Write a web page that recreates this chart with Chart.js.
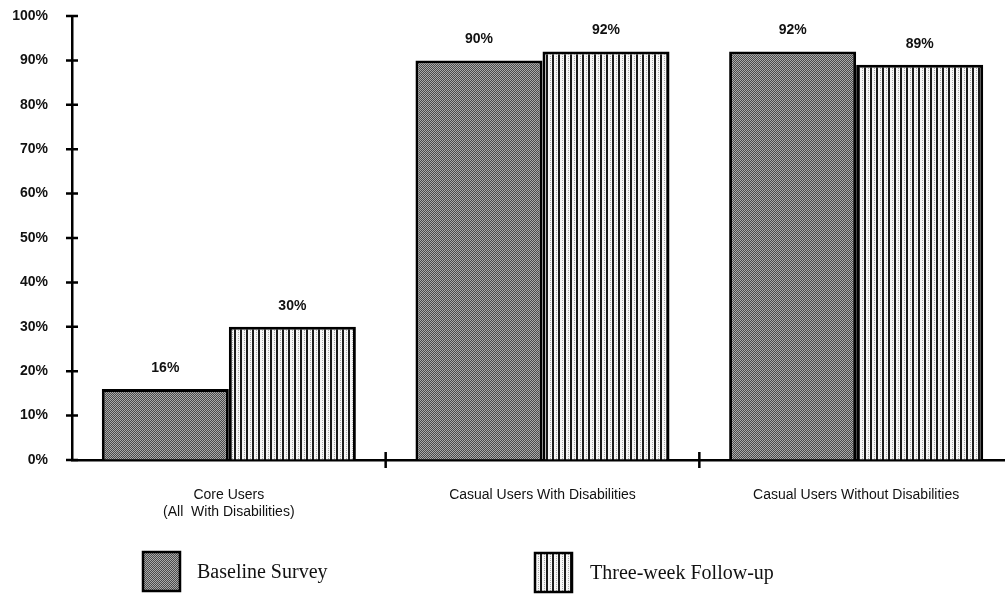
<!DOCTYPE html>
<html>
<head>
<meta charset="utf-8">
<script src="https://cdn.jsdelivr.net/npm/chart.js@4"></script>
<style>
  html, body { margin: 0; padding: 0; background: #fff; overflow: hidden; }
  #wrap { position: relative; width: 1013px; height: 595px; }
</style>
</head>
<body>
<div id="wrap"><canvas id="chart" width="1013" height="595"></canvas></div>
<script>
// data
const categories = [
  ['Core Users', '(All  With Disabilities)'],
  'Casual Users With Disabilities',
  'Casual Users Without Disabilities'
];
const seriesNames = ['Baseline Survey', 'Three-week Follow-up'];
const baseline = [16, 90, 92];
const followUp = [30, 92, 89];
const yTicks = [0, 10, 20, 30, 40, 50, 60, 70, 80, 90, 100];

// fills: dark stipple and vertical stripes
function stipple() {
  const c = document.createElement('canvas');
  c.width = 4; c.height = 4;
  const g = c.getContext('2d');
  for (let y = 0; y < 4; y++) {
    for (let x = 0; x < 4; x++) {
      g.fillStyle = (x + y) % 2 ? '#4a4a4a' : '#aaa';
      g.fillRect(x, y, 1, 1);
    }
  }
  return g.createPattern(c, 'repeat');
}
function stripes() {
  const c = document.createElement('canvas');
  c.width = 6; c.height = 2;
  const g = c.getContext('2d');
  g.fillStyle = '#f6f6f6';
  g.fillRect(0, 0, 6, 2);
  g.fillStyle = '#1a1a1a';
  g.fillRect(0, 0, 2, 2);
  g.fillStyle = '#aaa';
  g.fillRect(4, 0, 1, 1);
  return g.createPattern(c, 'repeat');
}
const fills = [stipple(), stripes()];

const barLabels = {
  id: 'barLabels',
  afterDatasetsDraw(chart) {
    const ctx = chart.ctx;
    ctx.save();
    ctx.fillStyle = '#111';
    ctx.font = 'bold 14px "Liberation Sans", Arial, sans-serif';
    ctx.textAlign = 'center';
    ctx.textBaseline = 'middle';
    chart.data.datasets.forEach((ds, i) => {
      chart.getDatasetMeta(i).data.forEach((bar, j) => {
        ctx.fillText(ds.data[j] + '%', bar.x, bar.y - 21);
      });
    });
    ctx.restore();
  }
};

// tick marks crossing the axes
const crossTicks = {
  id: 'crossTicks',
  afterDraw(chart) {
    const ctx = chart.ctx;
    const x = chart.scales.x, y = chart.scales.y;
    const area = chart.chartArea;
    ctx.save();
    ctx.strokeStyle = '#000';
    ctx.lineWidth = 2.5;
    ctx.beginPath();
    yTicks.forEach(v => {
      const py = y.getPixelForValue(v);
      ctx.moveTo(area.left - 6, py);
      ctx.lineTo(area.left + 6, py);
    });
    for (let i = 0; i < categories.length - 1; i++) {
      const px = (x.getPixelForValue(i) + x.getPixelForValue(i + 1)) / 2;
      ctx.moveTo(px, area.bottom - 8);
      ctx.lineTo(px, area.bottom + 8);
    }
    ctx.stroke();
    ctx.restore();
  }
};

// legend below the axis labels
const bottomLegend = {
  id: 'bottomLegend',
  afterDraw(chart) {
    const ctx = chart.ctx;
    const items = [
      { box: [143, 552], text: [197, 573] },
      { box: [535, 553], text: [590, 574] }
    ];
    ctx.save();
    ctx.font = '20px "Liberation Serif", "Times New Roman", serif';
    ctx.textBaseline = 'middle';
    items.forEach((it, i) => {
      ctx.fillStyle = fills[i];
      ctx.fillRect(it.box[0], it.box[1], 37, 39);
      ctx.strokeStyle = '#000';
      ctx.lineWidth = 2.5;
      ctx.strokeRect(it.box[0], it.box[1], 37, 39);
      ctx.fillStyle = '#111';
      ctx.fillText(seriesNames[i], it.text[0], it.text[1]);
    });
    ctx.restore();
  }
};

new Chart(document.getElementById('chart'), {
  type: 'bar',
  data: {
    labels: categories,
    datasets: [
      { label: seriesNames[0], data: baseline, backgroundColor: fills[0] },
      { label: seriesNames[1], data: followUp, backgroundColor: fills[1] }
    ].map(d => Object.assign(d, {
      borderColor: '#000',
      borderWidth: 3,
      borderSkipped: 'bottom',
      categoryPercentage: 0.81,
      barPercentage: 1
    }))
  },
  options: {
    responsive: false,
    animation: false,
    layout: { padding: { top: 16, left: 0, right: 0, bottom: 0 } },
    plugins: { legend: { display: false }, tooltip: { enabled: false } },
    scales: {
      x: {
        grid: { display: false, drawTicks: false },
        border: { color: '#000', width: 2.5 },
        ticks: {
          color: '#111',
          padding: 27,
          maxRotation: 0,
          autoSkip: false,
          font: { family: '"Liberation Sans", Arial, sans-serif', size: 14 }
        },
        afterFit(scale) { scale.height = 135; }
      },
      y: {
        min: 0,
        max: 100,
        grid: {
          display: true,
          drawOnChartArea: false,
          drawTicks: true,
          tickLength: 24,
          color: 'rgba(0,0,0,0)'
        },
        border: { color: '#000', width: 2.5 },
        ticks: {
          stepSize: 10,
          color: '#111',
          padding: 0,
          callback: v => v + '%',
          font: { family: '"Liberation Sans", Arial, sans-serif', size: 14, weight: 'bold' }
        },
        afterFit(scale) { scale.width = 72; }
      }
    }
  },
  plugins: [barLabels, crossTicks, bottomLegend]
});
</script>
</body>
</html>
